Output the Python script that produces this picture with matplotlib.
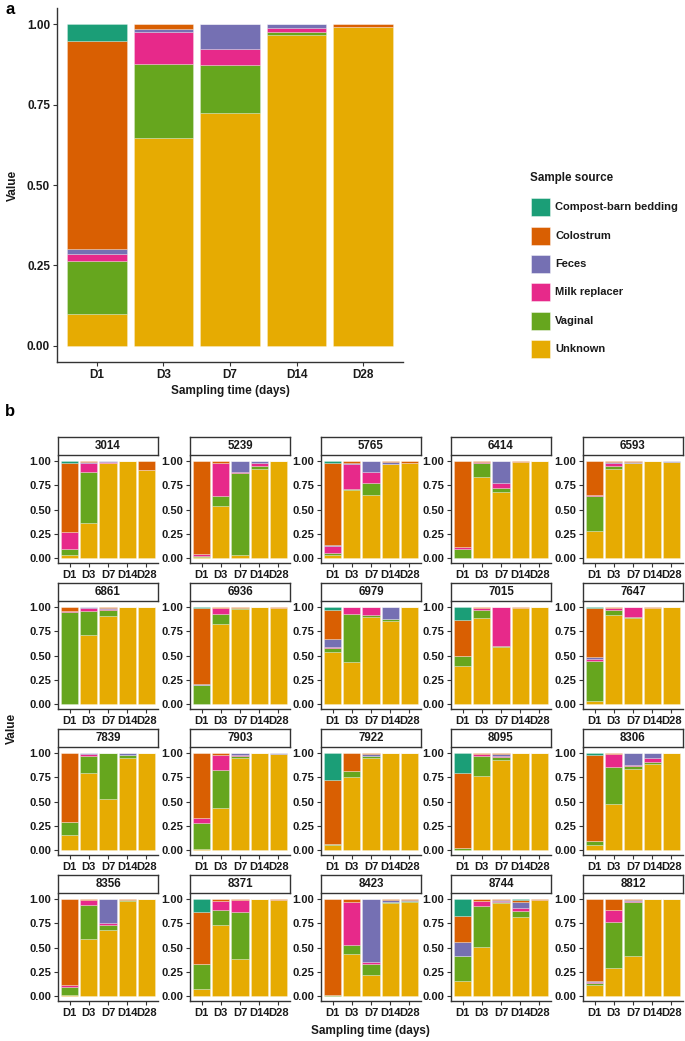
import matplotlib
matplotlib.use("Agg")
import matplotlib.pyplot as plt
from matplotlib.patches import Rectangle
import numpy as np

plt.rcParams['font.family'] = ['Liberation Sans', 'DejaVu Sans']
plt.rcParams['font.weight'] = 'bold'

days = ["D1", "D3", "D7", "D14", "D28"]
sources = ["Compost-barn bedding", "Colostrum", "Feces", "Milk replacer", "Vaginal", "Unknown"]
colors = ["#1B9E77", "#D95F02", "#7570B3", "#E7298A", "#66A61E", "#E6AB02"]

# ---------------- panel a (overall) ----------------
a_compost = [0.053, 0.0, 0.0, 0.0, 0.0]
a_colostrum = [0.647, 0.015, 0.0, 0.0, 0.01]
a_feces = [0.015, 0.01, 0.078, 0.012, 0.0]
a_milk = [0.02, 0.10, 0.049, 0.013, 0.0]
a_vaginal = [0.165, 0.23, 0.148, 0.01, 0.0]
a_unknown = [0.10, 0.645, 0.725, 0.965, 0.99]

# ---------------- panel b (per animal) ----------------
animals = ["3014", "5239", "5765", "6414", "6593",
           "6861", "6936", "6979", "7015", "7647",
           "7839", "7903", "7922", "8095", "8306",
           "8356", "8371", "8423", "8744", "8812"]

b_compost = [
    [0.02, 0, 0, 0, 0], [0, 0, 0, 0, 0], [0.02, 0, 0, 0, 0], [0, 0, 0, 0, 0], [0, 0, 0, 0, 0],
    [0, 0, 0, 0, 0], [0.01, 0, 0, 0, 0], [0.03, 0, 0, 0, 0], [0.14, 0, 0, 0, 0], [0.01, 0, 0, 0, 0],
    [0, 0, 0, 0, 0], [0, 0, 0, 0, 0], [0.28, 0, 0, 0, 0], [0.21, 0, 0, 0, 0], [0.02, 0, 0, 0, 0],
    [0, 0, 0, 0, 0], [0.14, 0, 0, 0, 0], [0, 0, 0, 0, 0], [0.18, 0, 0, 0.01, 0], [0, 0, 0, 0, 0],
]
b_colostrum = [
    [0.71, 0.01, 0.005, 0, 0.095], [0.96, 0.02, 0, 0, 0], [0.85, 0.02, 0, 0.01, 0.02],
    [0.885, 0.01, 0, 0.01, 0], [0.355, 0.015, 0.01, 0, 0],
    [0.045, 0.005, 0.01, 0, 0], [0.78, 0.01, 0.01, 0, 0.01], [0.30, 0, 0, 0, 0],
    [0.365, 0.01, 0, 0.01, 0], [0.51, 0.01, 0, 0.01, 0],
    [0.71, 0, 0, 0, 0], [0.67, 0.02, 0.005, 0, 0], [0.655, 0.19, 0.01, 0, 0],
    [0.77, 0.01, 0.01, 0, 0], [0.885, 0.01, 0, 0, 0],
    [0.885, 0.01, 0, 0.01, 0], [0.53, 0.02, 0.01, 0, 0.01], [0.99, 0.03, 0, 0.01, 0.01],
    [0.26, 0.02, 0.01, 0.02, 0.01], [0.845, 0.11, 0.01, 0, 0],
]
b_feces = [
    [0, 0.01, 0.01, 0, 0], [0, 0, 0.11, 0.025, 0], [0.01, 0.01, 0.11, 0.02, 0],
    [0.005, 0, 0.23, 0, 0], [0, 0.005, 0.01, 0, 0.01],
    [0, 0.005, 0.01, 0, 0], [0.01, 0, 0, 0, 0], [0.08, 0, 0, 0.12, 0],
    [0, 0, 0, 0, 0], [0.02, 0, 0, 0, 0],
    [0, 0.01, 0, 0.02, 0], [0, 0, 0.02, 0, 0.01], [0, 0, 0.02, 0, 0],
    [0, 0, 0.025, 0, 0], [0, 0, 0.12, 0.05, 0],
    [0.005, 0, 0.25, 0, 0], [0, 0, 0, 0, 0], [0, 0, 0.65, 0.02, 0.01],
    [0.145, 0, 0.01, 0.06, 0], [0.005, 0, 0.015, 0, 0],
]
b_milk = [
    [0.18, 0.09, 0.005, 0, 0], [0.02, 0.34, 0.01, 0.03, 0], [0.07, 0.26, 0.12, 0, 0],
    [0.02, 0.01, 0.05, 0, 0], [0.005, 0.03, 0, 0, 0],
    [0.005, 0.03, 0.01, 0, 0], [0, 0.06, 0, 0, 0], [0.01, 0.07, 0.08, 0, 0],
    [0.005, 0.02, 0.405, 0, 0], [0.02, 0.02, 0.105, 0, 0],
    [0, 0.02, 0, 0, 0], [0.05, 0.16, 0.005, 0, 0], [0.005, 0, 0, 0, 0],
    [0, 0.02, 0.005, 0, 0], [0.005, 0.14, 0.01, 0.04, 0],
    [0.02, 0.05, 0.02, 0, 0], [0, 0.09, 0.13, 0, 0], [0, 0.44, 0.02, 0, 0],
    [0.005, 0.05, 0.01, 0.03, 0], [0.02, 0.13, 0.005, 0, 0],
]
b_vaginal = [
    [0.06, 0.53, 0, 0, 0], [0.01, 0.10, 0.85, 0.025, 0], [0.02, 0.01, 0.12, 0, 0],
    [0.09, 0.15, 0.04, 0, 0], [0.36, 0.03, 0, 0, 0],
    [0.95, 0.25, 0.06, 0, 0], [0.195, 0.11, 0.01, 0, 0], [0.04, 0.50, 0.02, 0.03, 0],
    [0.10, 0.08, 0.005, 0, 0], [0.41, 0.05, 0.005, 0, 0],
    [0.13, 0.18, 0.47, 0.03, 0], [0.27, 0.39, 0.02, 0, 0], [0.01, 0.06, 0.02, 0, 0],
    [0.015, 0.21, 0.03, 0, 0], [0.04, 0.38, 0.04, 0.02, 0],
    [0.08, 0.35, 0.05, 0.01, 0], [0.26, 0.16, 0.48, 0, 0], [0.01, 0.10, 0.11, 0.01, 0.01],
    [0.25, 0.42, 0.01, 0.07, 0], [0.02, 0.47, 0.56, 0, 0],
]
b_unknown = [
    [0.03, 0.36, 0.98, 1.0, 0.905], [0.01, 0.54, 0.03, 0.92, 1.0], [0.03, 0.70, 0.65, 0.97, 0.98],
    [0.0, 0.83, 0.68, 0.99, 1.0], [0.28, 0.92, 0.98, 1.0, 0.99],
    [0.0, 0.71, 0.91, 1.0, 1.0], [0.005, 0.82, 0.98, 1.0, 0.99], [0.54, 0.43, 0.90, 0.85, 1.0],
    [0.39, 0.89, 0.59, 0.99, 1.0], [0.03, 0.92, 0.89, 0.99, 1.0],
    [0.16, 0.79, 0.53, 0.95, 1.0], [0.01, 0.43, 0.95, 1.0, 0.99], [0.05, 0.75, 0.95, 1.0, 1.0],
    [0.005, 0.76, 0.93, 1.0, 1.0], [0.05, 0.47, 0.83, 0.89, 1.0],
    [0.01, 0.59, 0.68, 0.98, 1.0], [0.07, 0.73, 0.38, 1.0, 0.99], [0.0, 0.43, 0.22, 0.96, 0.97],
    [0.16, 0.51, 0.96, 0.81, 0.99], [0.11, 0.29, 0.41, 1.0, 1.0],
]

W, H = 685, 1041
fig = plt.figure(figsize=(W / 100, H / 100), dpi=100)


def px_axes(left, top, right, bottom):
    return fig.add_axes([left / W, 1 - bottom / H, (right - left) / W, (bottom - top) / H])


TXT = "#1a1a1a"
AXC = "#333333"


def stacked(ax, series, fs):
    # stacking order bottom -> top: Unknown, Vaginal, Milk, Feces, Colostrum, Compost
    x = np.arange(1, len(days) + 1)
    bottom = np.zeros(len(days))
    for idx in [5, 4, 3, 2, 1, 0]:
        vals = np.asarray(series[idx], dtype=float)
        ax.bar(x, vals, width=0.9, bottom=bottom, color=colors[idx],
               edgecolor=(1, 1, 1, 0.45), linewidth=0.4)
        bottom += vals
    ax.set_xlim(0.4, len(days) + 0.6)
    ax.set_ylim(-0.05, 1.05)
    ax.set_yticks([0, 0.25, 0.5, 0.75, 1.0])
    ax.set_yticklabels(["0.00", "0.25", "0.50", "0.75", "1.00"])
    ax.set_xticks(x)
    ax.set_xticklabels(days)
    for s in ["top", "right"]:
        ax.spines[s].set_visible(False)
    for s in ["left", "bottom"]:
        ax.spines[s].set_color(AXC)
        ax.spines[s].set_linewidth(1.0)
    ax.tick_params(axis="both", colors=AXC, labelcolor=TXT, labelsize=fs,
                   length=3, width=0.8, pad=2)
    for lab in ax.get_xticklabels() + ax.get_yticklabels():
        lab.set_fontweight("bold")


# panel a
axa = px_axes(57, 8, 403, 362)
stacked(axa, [a_compost, a_colostrum, a_feces, a_milk, a_vaginal, a_unknown], 8.5)
axa.set_xlabel("Sampling time (days)", fontsize=8.5, fontweight="bold", color=TXT, labelpad=3)
axa.set_ylabel("Value", fontsize=8.5, fontweight="bold", color=TXT, labelpad=6)
fig.text(5 / W, 1 - 9 / H, "a", fontsize=12, fontweight="bold", va="center", ha="left")

# legend
fig.text(530 / W, 1 - 178 / H, "Sample source", fontsize=8.4, fontweight="bold",
         va="center", ha="left", color=TXT)
key_y = [207, 236, 264, 292, 321, 349]
for i, (name, col) in enumerate(zip(sources, colors)):
    yc = key_y[i]
    fig.patches.append(Rectangle((531 / W, 1 - (yc + 9) / H), 19 / W, 18 / H,
                                 transform=fig.transFigure, facecolor=col,
                                 edgecolor=(1, 1, 1, 0.6), linewidth=0.5))
    fig.text(555 / W, 1 - yc / H, name, fontsize=8.0, fontweight="bold",
             va="center", ha="left", color=TXT)

# panel b
fig.text(5 / W, 1 - 411 / H, "b", fontsize=12, fontweight="bold", va="center", ha="left")
col_left = [58, 190, 321, 451, 583]
row_one = [461, 607, 753, 899]
for k, name in enumerate(animals):
    r, c = divmod(k, 5)
    left = col_left[c]
    right = left + 100
    top = row_one[r] - 5
    bottom = row_one[r] + 102
    ax = px_axes(left, top, right, bottom)
    series = [b_compost[k], b_colostrum[k], b_feces[k], b_milk[k], b_vaginal[k], b_unknown[k]]
    stacked(ax, series, 8)
    # strip
    sax = px_axes(left, top - 19, right, top - 1)
    sax.set_xticks([])
    sax.set_yticks([])
    sax.set_facecolor("white")
    for s in sax.spines.values():
        s.set_color(AXC)
        s.set_linewidth(1.0)
    sax.text(0.5, 0.5, name, transform=sax.transAxes, ha="center", va="center",
             fontsize=8.3, fontweight="bold", color=TXT)

fig.text(370 / W, 1 - 1031 / H, "Sampling time (days)", fontsize=8.5, fontweight="bold",
         ha="center", va="center", color=TXT)
fig.text(12 / W, 1 - 728 / H, "Value", fontsize=8.5, fontweight="bold",
         ha="center", va="center", rotation=90, color=TXT)

fig.savefig("out.png", dpi=100)
